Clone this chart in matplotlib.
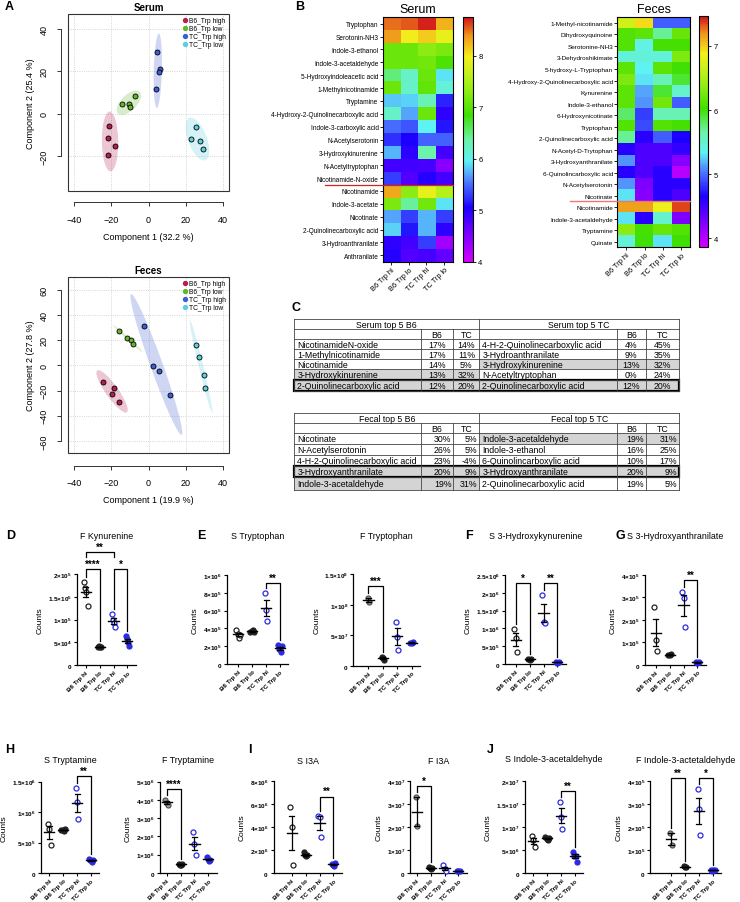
import numpy as np
import matplotlib.pyplot as plt
from matplotlib.patches import Ellipse, Rectangle
from matplotlib.colors import LinearSegmentedColormap

plt.rcParams['font.family'] = ['Liberation Sans', 'DejaVu Sans']
plt.rcParams['mathtext.fontset'] = 'custom'
plt.rcParams['mathtext.rm'] = 'Liberation Sans'
plt.rcParams['mathtext.bf'] = 'Liberation Sans:bold'
plt.rcParams['mathtext.it'] = 'Liberation Sans:italic'

W, H = 740, 903

# ---------------- data ----------------
# A: PCA scores
pca_groups = ['B6_Trp high', 'B6_Trp low', 'TC_Trp high', 'TC_Trp low']
pca_colors = ['#B81D50', '#63B52C', '#3C5FD6', '#5CCFDF']
serum_c1 = [[-21, -21.5, -18, -22], [-14, -10.5, -10, -7.5], [4.5, 6, 5.5, 4], [25.5, 23, 27.5, 29]]
serum_c2 = [[-6, -11.5, -15.5, -19.5], [4.5, 4.5, 3, 8.5], [29, 21, 19.5, 11.5], [-6.5, -12, -13, -16.5]]
feces_c1 = [[-24.2, -18.5, -19.5, -16], [-15.6, -11.5, -9.5, -8.3], [-2.3, 2.5, 5.4, 11.3], [25.3, 26.9, 30, 30.5]]
feces_c2 = [[-13.2, -17.6, -22.6, -29.2], [27.1, 21.8, 19.7, 16.8], [31.3, -0.5, -4.5, -23.7], [16.3, 6.3, -7.4, -17.9]]

# B: heatmaps (log10 counts)
heat_cols = ['B6 Trp hi', 'B6 Trp lo', 'TC Trp hi', 'TC Trp lo']
serum_rows = ['Tryptophan', 'Serotonin-NH3', 'Indole-3-ethanol', 'Indole-3-acetaldehyde',
              '5-Hydroxyindoleacetic acid', '1-Methylnicotinamide', 'Tryptamine',
              '4-Hydroxy-2-Quinolinecarboxylic acid', 'Indole-3-carboxylic acid', 'N-Acetylserotonin',
              '3-Hydroxykinurenine', 'N-Acetyltryptophan', 'Nicotinamide-N-oxide', 'Nicotinamide',
              'Indole-3-acetate', 'Nicotinate', '2-Quinolinecarboxylic acid', '3-Hydroanthranilate',
              'Anthranilate']
serum_vals = [[8.5, 8.55, 8.7, 8.25], [8.35, 8.0, 8.15, 7.9], [7.1, 7.1, 7.3, 7.2],
              [7.1, 7.1, 7.15, 6.95], [6.5, 6.2, 7.1, 5.9], [7.1, 6.2, 7.05, 6.1],
              [5.8, 5.85, 6.3, 5.2], [6.2, 5.7, 7.1, 4.95], [5.5, 5.4, 5.95, 5.15],
              [5.25, 5.05, 5.45, 5.45], [5.75, 4.95, 6.35, 4.85], [4.85, 4.85, 4.8, 4.45],
              [5.3, 4.75, 5.0, 4.85], [8.3, 7.3, 7.9, 7.55], [7.2, 6.4, 7.15, 5.9],
              [5.7, 5.3, 5.75, 5.3], [5.85, 5.15, 5.75, 4.95], [4.95, 4.85, 5.3, 4.3],
              [5.0, 4.75, 4.8, 4.65]]
feces_rows = ['1-Methyl-nicotinamide', 'Dihydroxyquinoine', 'Serotonine-NH3', '3-Dehydroshikimate',
              '5-hydroxy-L-Tryptophan', '4-Hydroxy-2-Quinolinecarboxylic acid', 'Kynurenine',
              'Indole-3-ethanol', '6-Hydroxynicotinate', 'Tryptophan', '2-Quinolinecarboxylic acid',
              'N-Acetyl-D-Trytophan', '3-Hydroxyanthranilate', '6-Quinolincarboxylic acid',
              'N-Acetylserotonin', 'Nicotinate', 'Nicotinamide', 'Indole-3-acetaldehyde',
              'Tryptamine', 'Quinate']
feces_vals = [[6.7, 6.95, 4.95, 4.95], [6.1, 6.15, 5.7, 6.2], [6.1, 5.4, 6.05, 6.05],
              [5.45, 5.45, 5.45, 6.3], [6.15, 5.35, 6.15, 6.0], [6.3, 5.3, 5.6, 5.9],
              [6.15, 5.15, 5.9, 5.5], [6.15, 5.1, 6.25, 4.95], [5.8, 4.85, 5.6, 5.6],
              [6.1, 4.9, 6.1, 6.05], [5.7, 4.6, 4.95, 4.65], [4.6, 4.45, 4.45, 4.55],
              [5.1, 4.45, 4.45, 4.2], [4.6, 4.45, 4.6, 4.0], [5.1, 4.25, 4.6, 4.6],
              [5.3, 4.2, 4.6, 4.45], [7.15, 7.15, 6.85, 7.35], [5.3, 4.6, 5.5, 4.25],
              [6.35, 6.05, 6.2, 6.1], [5.45, 6.0, 5.3, 6.0]]

# C: tables
serum_b6_names = ['NicotinamideN-oxide', '1-Methylnicotinamide', 'Nicotinamide',
                  '3-Hydroxykinurenine', '2-Quinolinecarboxylic acid']
serum_b6_b6 = ['17%', '17%', '14%', '13%', '12%']
serum_b6_tc = ['14%', '11%', '5%', '32%', '20%']
serum_tc_names = ['4-H-2-Quinolinecarboxylic acid', '3-Hydroanthranilate', '3-Hydroxykinurenine',
                  'N-Acetyltryptophan', '2-Quinolinecarboxylic acid']
serum_tc_b6 = ['4%', '9%', '13%', '0%', '12%']
serum_tc_tc = ['45%', '35%', '32%', '24%', '20%']
fecal_b6_names = ['Nicotinate', 'N-Acetylserotonin', '4-H-2-Quinolinecarboxylic acid',
                  '3-Hydroxyanthranilate', 'Indole-3-acetaldehyde']
fecal_b6_b6 = ['30%', '26%', '23%', '20%', '19%']
fecal_b6_tc = ['5%', '5%', '-4%', '9%', '31%']
fecal_tc_names = ['Indole-3-acetaldehyde', 'Indole-3-ethanol', '6-Quinolincarboxylic acid',
                  '3-Hydroxyanthranilate', '2-Quinolinecarboxylic acid']
fecal_tc_b6 = ['19%', '16%', '10%', '20%', '19%']
fecal_tc_tc = ['31%', '25%', '17%', '9%', '5%']

# D-J: counts per group (B6 hi, B6 lo, TC hi, TC lo)
f_kynurenine = [[1.82e5, 1.70e5, 1.62e5, 1.30e5], [4.0e4, 4.1e4, 3.9e4, 4.0e4],
                [1.12e5, 1.0e5, 0.92e5, 0.83e5], [6.4e4, 5.7e4, 5.0e4, 4.2e4]]
s_tryptophan = [[3.8e5, 3.4e5, 2.9e5, 3.3e5], [3.6e5, 3.7e5, 3.8e5, 3.6e5],
                [8.0e5, 6.1e5, 4.8e5], [2.1e5, 1.7e5, 1.3e5, 2.0e5]]
f_tryptophan = [[1.11e8, 1.04e8], [1.5e7, 1.2e7, 1.0e7], [7.2e7, 4.7e7, 2.5e7], [3.8e7, 3.7e7, 3.9e7]]
s_hydroxykyn = [[9.9e5, 7.3e5, 3.4e5], [1.4e5, 1.2e5, 1.3e5], [1.95e6, 1.18e6, 1.16e6], [5e4, 4e4, 6e4]]
s_hydroxyanth = [[2.58e5, 1.08e5, 0.6e5], [4.5e4, 4.2e4, 4.8e4], [3.26e5, 2.96e5, 1.7e5], [1.0e4, 0.8e4, 1.2e4]]
s_tryptamine = [[8.1e5, 7.3e5, 4.6e5], [7.1e5, 7.0e5, 6.9e5, 7.2e5], [1.40e6, 1.17e6, 8.9e5],
                [2.3e5, 2.1e5, 1.8e5, 2.2e5]]
f_tryptamine = [[4.0e6, 3.85e6, 3.75e6], [5.0e5, 4.6e5, 4.4e5, 4.8e5], [2.23e6, 1.59e6, 0.99e6],
                [8.5e5, 7.5e5, 6.8e5, 7.2e5]]
s_i3a = [[5.74e6, 3.99e6, 0.7e6], [1.8e6, 1.55e6, 1.45e6, 1.6e6], [5.0e6, 4.92e6, 3.12e6],
         [8.0e5, 7.0e5, 6.5e5, 8.5e5]]
f_i3a = [[3.33e7, 2.03e7], [2.5e6, 2.0e6, 1.6e6, 2.2e6], [3.3e6, 1.6e6, 1.0e6], [9e5, 7e5, 8e5]]
s_iaald = [[8.0e6, 7.27e6, 5.74e6], [7.9e6, 7.5e6, 7.2e6, 7.6e6], [1.54e7, 1.23e7, 0.97e7],
           [4.6e6, 3.8e6, 3.6e6, 2.5e6]]
f_iaald = [[1.73e5, 1.22e5], [2.9e4, 2.6e4, 2.4e4], [3.67e5, 2.8e5, 1.66e5], [1.5e4, 1.0e4, 1.2e4, 1.3e4]]

# ---------------- figure ----------------
fig = plt.figure(figsize=(7.4, 9.03), dpi=100)


def rect(l, t, r, b):
    return [l / W, 1 - b / H, (r - l) / W, (b - t) / H]


def conf_ellipse(ax, x, y, color):
    cov = np.cov(x, y)
    vals, vecs = np.linalg.eigh(cov)
    order = vals.argsort()[::-1]
    vals, vecs = vals[order], vecs[:, order]
    ang = np.degrees(np.arctan2(vecs[1, 0], vecs[0, 0]))
    k = np.sqrt(5.991)
    ax.add_patch(Ellipse((np.mean(x), np.mean(y)), 2 * k * np.sqrt(vals[0]), 2 * k * np.sqrt(vals[1]),
                         angle=ang, facecolor=color, alpha=0.25, edgecolor='none', zorder=1))


def pca_panel(box, c1, c2, title, xlab, ylab, ylim, yticks, bottom_off):
    ax = fig.add_axes(rect(*box))
    ax.set_xlim(-43.2, 43.2)
    ax.set_ylim(*ylim)
    for x in [-40, -20, 0, 20, 40]:
        ax.axvline(x, color='#c8c8c8', lw=0.6, ls=':', zorder=0)
    for y in yticks:
        ax.axhline(y, color='#c8c8c8', lw=0.6, ls=':', zorder=0)
    for g in range(4):
        conf_ellipse(ax, c1[g], c2[g], pca_colors[g])
        ax.scatter(c1[g], c2[g], s=13, color=pca_colors[g], edgecolors='k', linewidths=0.6, zorder=3)
        ax.scatter([], [], s=8, color=pca_colors[g], label=pca_groups[g])
    ax.legend(loc='upper right', fontsize=4.8, frameon=False, handletextpad=0.1,
              borderaxespad=0.2, labelspacing=0.15, handlelength=1.0, borderpad=0.2)
    ax.add_patch(Rectangle((0, 0), 1, 1, transform=ax.transAxes, fill=False, lw=0.8,
                           edgecolor='#333333', clip_on=False))
    for s in ['top', 'right']:
        ax.spines[s].set_visible(False)
    ax.spines['bottom'].set_position(('outward', bottom_off))
    ax.spines['bottom'].set_bounds(-40, 40)
    ax.spines['left'].set_position(('outward', 5))
    ax.spines['left'].set_bounds(yticks[0], yticks[-1])
    for s in ['bottom', 'left']:
        ax.spines[s].set_linewidth(0.7)
        ax.spines[s].set_color('#333333')
    ax.set_xticks([-40, -20, 0, 20, 40])
    ax.set_yticks(yticks)
    ax.tick_params(labelsize=6.5, length=3, width=0.7, color='#333333', pad=6)
    for t in ax.get_yticklabels():
        t.set_rotation(90)
        t.set_va('center')
    ax.set_title(title, fontsize=7, fontweight='bold', pad=3)
    ax.set_xlabel(xlab, fontsize=6.5, labelpad=6)
    ax.set_ylabel(ylab, fontsize=6.5, labelpad=3)


pca_panel((68, 15, 229, 192), serum_c1, serum_c2, 'Serum', 'Component 1 (32.2 %)',
          'Component 2 (25.4 %)', (-36.5, 47), [-20, 0, 20, 40], 8)
pca_panel((68, 278, 229, 454), feces_c1, feces_c2, 'Feces', 'Component 1 (19.9 %)',
          'Component 2 (27.8 %)', (-69.5, 70), [-60, -40, -20, 0, 20, 40, 60], 9)

# heatmaps
cmap = LinearSegmentedColormap.from_list('gp_rainbow', [
    (0.0, '#d600ff'), (0.11, '#7a00ff'), (0.22, '#1c00ff'), (0.33, '#4f7dff'),
    (0.41, '#5ff2f5'), (0.5, '#6cf2a6'), (0.6, '#3fe000'), (0.73, '#a8f019'),
    (0.84, '#f4f01c'), (0.93, '#f0901c'), (1.0, '#d2141a')])


def heat_panel(box, cbox, vals, rows, vmin, vmax, cticks, title, fs):
    ax = fig.add_axes(rect(*box))
    im = ax.imshow(np.array(vals), cmap=cmap, vmin=vmin, vmax=vmax, aspect='auto',
                   interpolation='nearest')
    ax.set_yticks(range(len(rows)))
    ax.set_yticklabels(rows, fontsize=fs)
    ax.set_xticks(range(4))
    ax.set_xticklabels(heat_cols, rotation=45, ha='right', rotation_mode='anchor', fontsize=5.3)
    ax.tick_params(length=2, width=0.6, pad=1)
    for s in ax.spines.values():
        s.set_linewidth(0.8)
    ax.set_title(title, fontsize=9, pad=4)
    cax = fig.add_axes(rect(*cbox))
    cb = fig.colorbar(im, cax=cax, ticks=cticks)
    cb.ax.tick_params(labelsize=5.5, length=2, width=0.6, pad=2)
    cb.outline.set_linewidth(0.8)


heat_panel((382.7, 18.3, 452.7, 262.7), (463, 18.3, 472.7, 262.7), serum_vals, serum_rows,
           4, 8.75, [4, 5, 6, 7, 8], 'Serum', 4.7)
heat_panel((617.3, 18.2, 690, 248.4), (699, 17.3, 708.3, 248.4), feces_vals, feces_rows,
           3.86, 7.46, [4, 5, 6, 7], 'Feces', 4.6)

# dot plots
grp_labels = ['B6 Trp hi', 'B6 Trp lo', 'TC Trp hi', 'TC Trp lo']
blue = '#2b2be6'
grp_style = [dict(mfc='white', mec='#222222'), dict(mfc='#222222', mec='#222222'),
             dict(mfc='white', mec=blue), dict(mfc=blue, mec=blue)]


def lab(v):
    if v == 0:
        return r'$\mathbf{0}$'
    e = int(np.floor(np.log10(v) + 1e-9))
    return r'$\mathbf{%s{\times}10^{%d}}$' % ('%g' % (v / 10 ** e), e)


def dot_panel(groups, title, x0, pad, ytop, ybot, ty, yticks, sigs, sp=13.9, gray_hi=False):
    right_u = 3.6
    l, r = x0 - pad * sp, x0 + right_u * sp
    ax = fig.add_axes(rect(l, ytop, r, ybot))
    ymax = yticks[-1]
    ax.set_xlim(-pad, right_u)
    ax.set_ylim(0, ymax)
    ppx = ymax / (ybot - ytop)
    for gi, vals in enumerate(groups):
        vals = np.asarray(vals, float)
        n = len(vals)
        xs = gi + (np.arange(n) - (n - 1) / 2) * 0.09
        st = dict(grp_style[gi])
        if gi == 0 and gray_hi:
            st = dict(mfc='#9a9a9a', mec='#555555')
        ax.plot(xs, vals, 'o', ms=3.6, mew=0.9, clip_on=False, zorder=3, **st)
        m = vals.mean()
        se = vals.std(ddof=1) / np.sqrt(n)
        ax.plot([gi - 0.36, gi + 0.36], [m, m], color='k', lw=1.0, zorder=4)
        ax.plot([gi, gi], [m - se, m + se], color='k', lw=0.9, zorder=4)
        for yy in (m - se, m + se):
            ax.plot([gi - 0.18, gi + 0.18], [yy, yy], color='k', lw=0.9, zorder=4)
    for (i, j, txt, ypx, short) in sigs:
        yb = (ybot - ypx) * ppx
        gap = 5 * ppx
        yl = yb - gap if short else max(groups[i]) + gap
        yr = yb - gap if short else max(groups[j]) + gap
        ax.plot([i, i, j, j], [yl, yb, yb, yr], color='k', lw=0.9, clip_on=False)
        ax.text((i + j) / 2, yb + 0.5 * ppx, txt, ha='center', va='bottom', fontsize=7,
                fontweight='bold')
    for s in ['top', 'right']:
        ax.spines[s].set_visible(False)
    for s in ['left', 'bottom']:
        ax.spines[s].set_linewidth(0.9)
    ax.set_yticks(yticks)
    ax.set_yticklabels([lab(v) for v in yticks])
    ax.set_xticks(range(4))
    ax.set_xticklabels(grp_labels, rotation=45, ha='right', rotation_mode='anchor',
                       fontsize=4.5, fontweight='bold')
    ax.tick_params(axis='y', labelsize=4.6, length=2.5, width=0.8, pad=1)
    ax.tick_params(axis='x', length=2.5, width=0.8, pad=1)
    ax.set_ylabel('Counts', fontsize=6, labelpad=3)
    fig.text((l + r) / 2 / W, 1 - ty / H, title, ha='center', va='center', fontsize=6.4)


dot_panel(f_kynurenine, 'F Kynurenine', 85.7, 0.65, 575.3, 666, 536.7,
          [0, 5e4, 1e5, 1.5e5, 2e5],
          [(0, 1, '****', 570, False), (2, 3, '*', 570, False), (0, 2, '**', 553, True)])
dot_panel(s_tryptophan, 'S Tryptophan', 238.3, 0.83, 576, 665, 536.7,
          [0, 2e5, 4e5, 6e5, 8e5, 1e6], [(2, 3, '**', 584.3, False)])
dot_panel(f_tryptophan, 'F Tryptophan', 368.4, 1.05, 575.3, 666.7, 536.7,
          [0, 5e7, 1e8, 1.5e8], [(0, 1, '***', 587, False)], sp=14.4, gray_hi=True)
dot_panel(s_hydroxykyn, 'S 3-Hydroxykynurenine', 515.7, 0.78, 576, 665, 536.7,
          [0, 5e5, 1e6, 1.5e6, 2e6, 2.5e6],
          [(0, 1, '*', 584.3, False), (2, 3, '**', 584.3, False)])
dot_panel(s_hydroxyanth, 'S 3-Hydroxyanthranilate', 655.7, 0.78, 576, 665.7, 536.7,
          [0, 1e5, 2e5, 3e5, 4e5], [(2, 3, '**', 581, False)])
dot_panel(s_tryptamine, 'S Tryptamine', 49.3, 0.62, 782.7, 874, 761,
          [0, 5e5, 1e6, 1.5e6], [(2, 3, '**', 777.3, False)])
dot_panel(f_tryptamine, 'F Tryptamine', 166.7, 0.5, 782.7, 874, 761,
          [0, 1e6, 2e6, 3e6, 4e6, 5e6], [(0, 1, '****', 790, False)], gray_hi=True)
dot_panel(s_i3a, 'S I3A', 291.7, 1.3, 782.3, 874, 762,
          [0, 2e6, 4e6, 6e6, 8e6], [(2, 3, '**', 797.7, False)])
dot_panel(f_i3a, 'F I3A', 416.7, 0.45, 782.3, 874, 762,
          [0, 1e7, 2e7, 3e7, 4e7], [(0, 1, '*', 787.3, False)], gray_hi=True)
dot_panel(s_iaald, 'S Indole-3-acetaldehyde', 533.3, 0.6, 782.3, 874, 760,
          [0, 5e6, 1e7, 1.5e7, 2e7], [(2, 3, '**', 792.3, False)])
dot_panel(f_iaald, 'F Indole-3-actetaldehyde', 671, 1.5, 782.3, 874, 760.7,
          [0, 1e5, 2e5, 3e5, 4e5],
          [(0, 1, '**', 779.3, False), (2, 3, '*', 779.3, False)], gray_hi=True)

# overlay: tables, lines, panel letters
ov = fig.add_axes([0, 0, 1, 1], zorder=10)
ov.set_xlim(0, W)
ov.set_ylim(H, 0)
ov.axis('off')

ov.plot([325, 452.7], [185.5, 185.5], color='#d42020', lw=0.9)
ov.plot([570, 690], [202.4, 202.4], color='#e87878', lw=1.0)

tx = [294.3, 420.7, 453.3, 479.3, 616.7, 645.7, 679]


def draw_table(ys, head_l, head_r, left, right, shade_l, shade_r, boxed, num_align):
    for k in shade_l:
        ov.add_patch(Rectangle((tx[0], ys[k + 2]), tx[3] - tx[0], ys[k + 3] - ys[k + 2],
                               facecolor='#d4d4d4', edgecolor='none'))
    for k in shade_r:
        ov.add_patch(Rectangle((tx[3], ys[k + 2]), tx[6] - tx[3], ys[k + 3] - ys[k + 2],
                               facecolor='#d4d4d4', edgecolor='none'))
    lc, lw = '#444444', 0.6
    for y in ys:
        ov.plot([tx[0], tx[6]], [y, y], color=lc, lw=lw)
    for x in (tx[0], tx[3], tx[6]):
        ov.plot([x, x], [ys[0], ys[-1]], color=lc, lw=lw)
    for x in (tx[1], tx[2], tx[4], tx[5]):
        ov.plot([x, x], [ys[1], ys[-1]], color=lc, lw=lw)
    ov.add_patch(Rectangle((tx[0], ys[boxed + 2]), tx[6] - tx[0], ys[boxed + 3] - ys[boxed + 2],
                           fill=False, edgecolor='k', lw=1.6))
    fs = 6.3
    ym = lambda k: (ys[k] + ys[k + 1]) / 2 + 0.3
    ov.text((tx[0] + tx[3]) / 2, ym(0), head_l, ha='center', va='center', fontsize=fs)
    ov.text((tx[3] + tx[6]) / 2, ym(0), head_r, ha='center', va='center', fontsize=fs)
    for c0 in (1, 4):
        ov.text((tx[c0] + tx[c0 + 1]) / 2, ym(1), 'B6', ha='center', va='center', fontsize=fs)
        ov.text((tx[c0 + 1] + tx[c0 + 2]) / 2, ym(1), 'TC', ha='center', va='center', fontsize=fs)
    for c0, (names, b6, tc) in zip((0, 3), (left, right)):
        for k in range(5):
            ov.text(tx[c0] + 3, ym(k + 2), names[k], ha='left', va='center', fontsize=fs)
            for cc, val in ((c0 + 1, b6[k]), (c0 + 2, tc[k])):
                if num_align == 'center':
                    ov.text((tx[cc] + tx[cc + 1]) / 2, ym(k + 2), val, ha='center', va='center',
                            fontsize=fs)
                else:
                    ov.text(tx[cc + 1] - 2, ym(k + 2), val, ha='right', va='center', fontsize=fs)


draw_table([320.3, 330, 340, 350, 360, 370, 380.7, 392.3], 'Serum top 5 B6', 'Serum top 5 TC',
           (serum_b6_names, serum_b6_b6, serum_b6_tc), (serum_tc_names, serum_tc_b6, serum_tc_tc),
           [3, 4], [2, 4], 4, 'center')
draw_table([414.3, 424.3, 434.3, 445, 455.7, 466.7, 478.3, 490.7], 'Fecal top 5 B6', 'Fecal top 5 TC',
           (fecal_b6_names, fecal_b6_b6, fecal_b6_tc), (fecal_tc_names, fecal_tc_b6, fecal_tc_tc),
           [3, 4], [0, 3], 3, 'right')

for letter, x, y in [('A', 5, 7), ('B', 295, 7), ('C', 291, 308), ('D', 6, 536), ('E', 197, 536),
                     ('F', 465, 536), ('G', 615, 536), ('H', 5, 750), ('I', 248, 750),
                     ('J', 487, 750)]:
    ov.text(x, y, letter, ha='left', va='center', fontsize=9, fontweight='bold')

fig.savefig('out.png', dpi=100)
